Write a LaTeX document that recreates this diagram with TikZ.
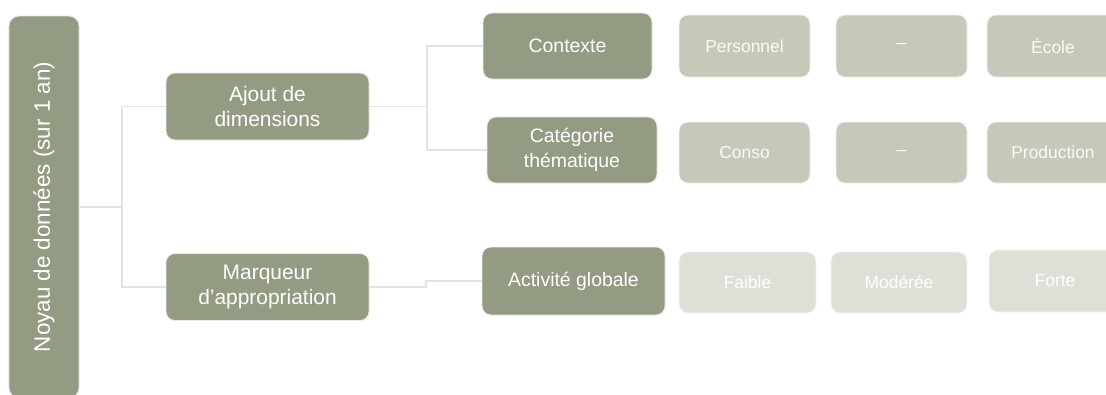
\documentclass[tikz,border=0pt]{standalone}
\usepackage{fontspec}
\setmainfont{Liberation Sans}
\usepackage{graphicx}
\definecolor{darkg}{HTML}{939C82}
\definecolor{midg}{HTML}{C4C9BA}
\definecolor{lightg}{HTML}{DEE0D8}
\definecolor{linec}{HTML}{E4E4DE}
\tikzset{
  base/.style={rounded corners=9bp, inner sep=0pt, align=center, text=white},
  rootbox/.style={base, fill=darkg, draw=white!80!darkg, line width=0.8bp, rounded corners=10bp, minimum width=70bp, minimum height=382bp, font=\fontsize{22.5}{27}\selectfont},
  lvlone/.style={base, fill=darkg, draw=white!80!darkg, line width=0.8bp, minimum width=203bp, minimum height=67bp, font=\fontsize{21}{26}\selectfont},
  lvltwo/.style={base, fill=darkg, draw=white!80!darkg, line width=0.8bp, minimum height=66bp, font=\fontsize{19.5}{25}\selectfont},
  valmid/.style={base, fill=midg, draw=white!75!midg, line width=0.8bp, minimum width=131bp, minimum height=62bp, text=white!92!midg, font=\fontsize{17.5}{22}\selectfont},
  vallight/.style={base, fill=lightg, draw=white!70!lightg, line width=0.8bp, minimum width=136bp, minimum height=61bp, font=\fontsize{17.5}{22}\selectfont},
  conn/.style={draw=linec, line width=1.5bp}
}
\begin{document}
\begin{tikzpicture}[x=1bp,y=-1bp]
\useasboundingbox[fill=white] (0,0) rectangle (1106,394);
% connectors
\coordinate (j0) at (122,207);
\coordinate (j1) at (427,106.5);
\coordinate (j2) at (426,287);
% level 0
\node[rootbox] (root) at (44,207) {\rotatebox{90}{Noyau de données (sur 1 an)}};
% level 1
\node[lvlone] (ajout) at (267.5,106.5) {Ajout de\\dimensions};
\node[lvlone] (marq) at (267.5,287) {Marqueur\\d’appropriation};
% level 2
\node[lvltwo, minimum width=169bp] (ctx) at (567.5,46) {Contexte};
\node[lvltwo, minimum width=170bp] (cat) at (572,150) {Catégorie\\thématique};
\node[lvltwo, minimum width=183bp, minimum height=68bp] (act) at (573.5,281) {Activité globale};
% values
\node[valmid] (pers) at (744.5,46) {Personnel};
\node[valmid] (dashA) at (901.5,46) {–};
\node[valmid, minimum width=132bp] (ecole) at (1053,46) {École};
\node[valmid, minimum height=61bp] (conso) at (744.5,152.5) {Conso};
\node[valmid, minimum height=61bp] (dashB) at (901.5,152.5) {–};
\node[valmid, minimum width=132bp, minimum height=61bp] (prod) at (1053,152.5) {Production};
\node[vallight, minimum width=137bp] (faible) at (747.5,282.5) {Faible};
\node[vallight] (moder) at (899,282.5) {Modérée};
\node[vallight, minimum width=132bp, minimum height=62bp] (forte) at (1055,281) {Forte};
% connectors
\draw[conn] (root.east |- j0) -- (j0) |- (ajout.west);
\draw[conn] (j0) |- (marq.west);
\draw[conn] (ajout.east) -- (j1) |- (ctx.west);
\draw[conn] (j1) |- (cat.west);
\draw[conn] (marq.east) -- (j2) |- (act.west);
\end{tikzpicture}
\end{document}
